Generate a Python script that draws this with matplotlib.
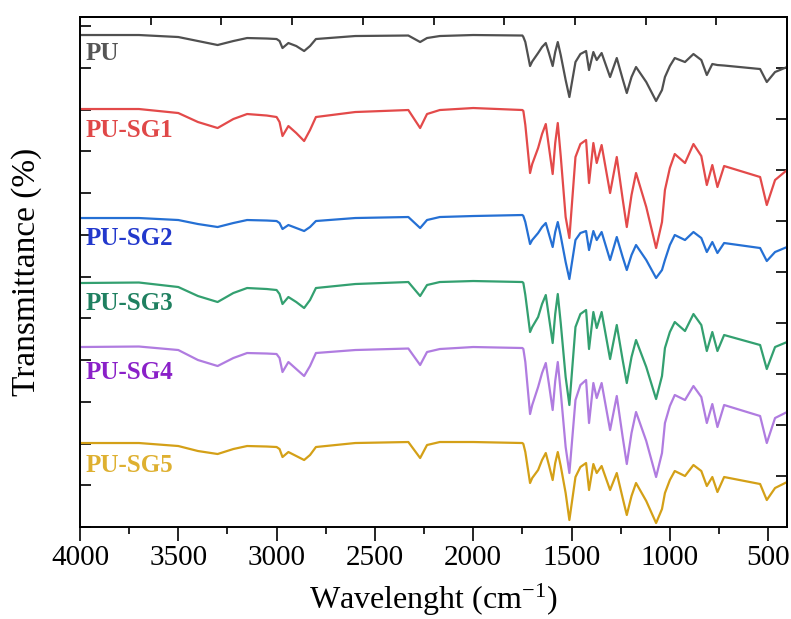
"""
FTIR spectra of PU and the PU-SG series, stacked
"""
import matplotlib
matplotlib.use("Agg")
import matplotlib.pyplot as plt

plt.rcParams["font.family"] = ["Liberation Serif", "DejaVu Serif"]
plt.rcParams["mathtext.default"] = "regular"
plt.rcParams["axes.unicode_minus"] = False

# wavenumbers (cm-1) of the points
wavenumber = [4000, 3700, 3500, 3400, 3300, 3220, 3150, 3050, 3000, 2985,
              2970, 2940, 2900, 2860, 2830, 2800, 2600, 2330, 2270, 2235,
              2170, 2000, 1750, 1745, 1735, 1711, 1700, 1670, 1650, 1631,
              1615, 1596, 1583, 1570, 1555, 1530, 1511, 1480, 1455, 1426,
              1411, 1389, 1372, 1347, 1304, 1270, 1240, 1219, 1195, 1172,
              1120, 1070, 1040, 1025, 1000, 975, 923, 880, 840, 812,
              784, 758, 724, 541, 507, 465, 404]

# transmittance (arb. units, curves already stacked)
pu = [492, 492, 490, 486, 482, 486, 489, 488.5, 488, 486,
      479, 484, 481, 476, 481, 488, 491, 491.5, 485, 489,
      491, 492, 491.5, 490, 485, 461, 465.5, 474, 480, 484,
      474, 461, 475, 485, 472, 447, 430, 465, 473, 476,
      457, 475, 467, 474, 450, 469, 448, 434, 450, 460,
      445, 426, 437, 450, 461, 469, 465, 473, 467, 452,
      463, 462, 461.5, 458, 445, 455, 460]
pu_sg1 = [418, 418, 414, 405, 399, 408, 413, 411.5, 410, 405,
          391, 401, 394, 386, 397, 410, 415, 417, 399, 413,
          417, 419, 417, 416, 402, 354, 363, 379, 393, 403,
          380, 353, 384, 404, 371, 310, 289, 370, 383, 387,
          344, 384, 364, 382, 334, 370, 328, 300, 332, 354,
          320, 279, 305, 337, 359, 373, 364, 383, 371, 342,
          362, 340, 361, 350, 322, 347, 357]
pu_sg2 = [309, 309, 307, 303, 300, 304, 307, 306.5, 306, 304,
          298, 302, 299, 296, 300, 306, 309, 310, 299, 307,
          310, 311, 312, 311, 305, 283, 287, 294, 300, 304,
          293, 280, 295, 305, 291, 265, 248, 287, 294, 296,
          277, 296, 287, 295, 267, 290, 270, 257, 272, 282,
          267, 249, 257, 267, 282, 292, 287, 295, 289, 275,
          285, 274, 284, 279, 266, 275, 280]
pu_sg3 = [244, 244.5, 240, 231, 225, 234, 239, 238, 237, 233,
          223, 230, 225, 219, 227, 239, 243, 245, 231, 242,
          245, 246, 245, 244, 232, 195, 200, 210, 223, 232,
          210, 184, 213, 233, 204, 150, 122, 200, 213, 217,
          178, 215, 199, 215, 168, 202, 167, 144, 170, 187,
          160, 128, 151, 179, 195, 205, 196, 213, 202, 176,
          195, 176, 192, 182, 158, 180, 185]
pu_sg4 = [180, 180.5, 177, 167, 161, 169, 174, 173.5, 173, 169,
          155, 165, 158, 151, 161, 174, 177, 178.5, 162, 175,
          178, 180, 179, 178, 165, 113, 122, 140, 154, 164,
          143, 117, 146, 165, 135, 80, 54, 127, 142, 147,
          104, 144, 129, 144, 97, 131, 90, 63, 94, 115,
          86, 50, 74, 104, 121, 132, 127, 141, 130, 104,
          123, 100, 122, 111, 84, 109, 115]
pu_sg5 = [84, 84, 81, 76, 73, 78, 81, 80.5, 80, 78,
          70, 75, 71, 67, 72, 80, 84, 85, 69, 82,
          85, 85, 84, 83, 75, 44, 49, 57, 67, 74,
          62, 47, 64, 75, 61, 34, 7, 50, 60, 64,
          37, 63, 54, 61, 37, 54, 29, 12, 31, 44,
          26, 4, 18, 34, 47, 56, 51, 62, 56, 41,
          50, 35, 50, 43, 27, 39, 45]

names = ["PU", "PU-SG1", "PU-SG2", "PU-SG3", "PU-SG4", "PU-SG5"]
label_y = [474, 397, 289, 224, 155, 62]
line_colors = ["#505050", "#e34a4a", "#2570d4", "#33a070", "#b07ce0", "#d4a017"]
text_colors = ["#555555", "#e04848", "#2238cc", "#1f8060", "#8a20c8", "#deb030"]

spectra = [pu, pu_sg1, pu_sg2, pu_sg3, pu_sg4, pu_sg5]

fig = plt.figure(figsize=(7.91, 6.19), dpi=100)
ax = fig.add_axes([0.1011, 0.1486, 0.8939, 0.8239])

for name, y, lc, tc, ly in zip(names, spectra, line_colors, text_colors, label_y):
    ax.plot(wavenumber, y, color=lc, lw=1.6, solid_joinstyle="round")
    ax.text(3972, ly, name, color=tc, fontsize=18, fontweight="bold",
            ha="left", va="center")

x_lo, x_hi = 4000, 404
ax.set_xlim(x_lo, x_hi)
ax.set_ylim(0, 510)

# bottom axis: outward ticks
ax.set_xticks([4000, 3500, 3000, 2500, 2000, 1500, 1000, 500])
ax.set_xticks([3750, 3250, 2750, 2250, 1750, 1250, 750], minor=True)
ax.tick_params(axis="x", which="major", direction="out", length=10, width=1.2,
               labelsize=21, pad=3)
ax.tick_params(axis="x", which="minor", direction="out", length=5, width=1.2)

# left axis: inward ticks, no labels
ax.set_yticks([41.75 * k for k in range(13)])
ax.tick_params(axis="y", which="major", direction="in", length=8, width=1.2,
               labelleft=False)

# top and right axes with their own tick sets
top = ax.secondary_xaxis("top")
top.set_xticks([x_lo + (x_hi - x_lo) * k / 10 for k in range(1, 10)])
top.tick_params(direction="in", length=6, width=1.2, labeltop=False)
right = ax.secondary_yaxis("right")
right.set_yticks([51 * k for k in range(1, 10)])
right.tick_params(direction="in", length=8, width=1.2, labelright=False)

for sp in list(ax.spines.values()) + [top.spines["top"], right.spines["right"]]:
    sp.set_linewidth(1.4)

ax.set_xlabel("Wavelenght (cm$^{-1}$)", fontsize=23, labelpad=8)
ax.set_ylabel("Transmittance (%)", fontsize=24, labelpad=27)

plt.savefig("out.png", dpi=100)
